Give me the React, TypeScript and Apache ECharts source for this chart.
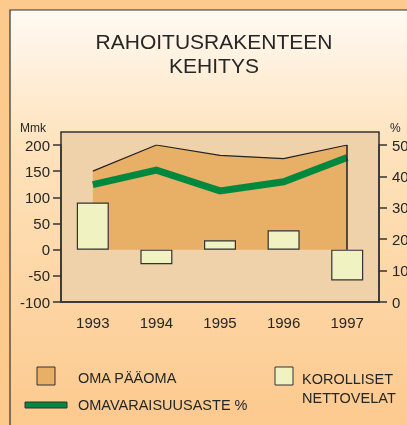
import React, { useEffect, useRef } from "react";
import * as echarts from "echarts";

const years = ["1993", "1994", "1995", "1996", "1997"];
const equity = [150, 200, 180, 174, 200]; // OMA PÄÄOMA, Mmk
const netDebt = [90, -28, 18, 37, -59]; // KOROLLISET NETTOVELAT, Mmk
const equityRatio = [37.4, 42, 35.4, 38.3, 46]; // OMAVARAISUUSASTE %

const leftTicks = { min: -100, max: 200, interval: 50 };
const rightTicks = { min: 0, max: 50, interval: 10 };

const FONT = "Liberation Sans, Arial, sans-serif";
const TXT = "#262626";

export default function App() {
  const ref = useRef<HTMLDivElement>(null);
  useEffect(() => {
    const chart = echarts.init(ref.current!, null, { renderer: "svg" });
    chart.setOption({
      animation: false,
      textStyle: { fontFamily: FONT },
      graphic: [
        { type: "rect", z: -10, shape: { x: 0, y: 0, width: 407, height: 425 }, style: { fill: "#fcca8c" } },
        {
          type: "rect",
          z: -9,
          shape: { x: 10, y: 10, width: 420, height: 440 },
          style: {
            fill: new echarts.graphic.LinearGradient(0, 0, 0, 1, [
              { offset: 0, color: "#fffaf3" },
              { offset: 0.3, color: "#fee3bd" },
              { offset: 1, color: "#fcc78a" },
            ]),
            stroke: "#333",
            lineWidth: 1.2,
          },
        },
        {
          type: "rect",
          z: -8,
          shape: { x: 61, y: 132, width: 318, height: 170 },
          style: { fill: "#f0d2aa", stroke: "#333", lineWidth: 1.5 },
        },
        {
          type: "text",
          x: 214,
          y: 29,
          style: {
            text: "RAHOITUSRAKENTEEN\nKEHITYS",
            fontSize: 21,
            lineHeight: 24,
            fontFamily: FONT,
            fill: TXT,
            align: "center",
            verticalAlign: "top",
          },
        },
        { type: "text", x: 20, y: 122, style: { text: "Mmk", fontSize: 12, fontFamily: FONT, fill: TXT } },
        { type: "text", x: 390, y: 122, style: { text: "%", fontSize: 12, fontFamily: FONT, fill: TXT } },
        {
          type: "rect",
          shape: { x: 37, y: 367, width: 18, height: 18 },
          style: { fill: "#e8b066", stroke: "#333", lineWidth: 1 },
        },
        {
          type: "text",
          x: 78,
          y: 378,
          style: { text: "OMA PÄÄOMA", fontSize: 14.5, fontFamily: FONT, fill: TXT, verticalAlign: "middle" },
        },
        {
          type: "rect",
          shape: { x: 25, y: 402, width: 42, height: 6 },
          style: { fill: "#00883f", stroke: "#333", lineWidth: 1 },
        },
        {
          type: "text",
          x: 78,
          y: 405,
          style: { text: "OMAVARAISUUSASTE %", fontSize: 14.5, fontFamily: FONT, fill: TXT, verticalAlign: "middle" },
        },
        {
          type: "rect",
          shape: { x: 275, y: 367, width: 18, height: 18 },
          style: { fill: "#f1f2c2", stroke: "#333", lineWidth: 1 },
        },
        {
          type: "text",
          x: 302,
          y: 369,
          style: {
            text: "KOROLLISET\nNETTOVELAT",
            fontSize: 14.5,
            lineHeight: 19,
            fontFamily: FONT,
            fill: TXT,
            verticalAlign: "top",
          },
        },
      ],
      grid: { left: 61, right: 28, top: 145, bottom: 123, containLabel: false, outerBoundsMode: "none" },
      xAxis: {
        type: "category",
        data: years,
        boundaryGap: true,
        axisLine: { onZero: false, lineStyle: { color: "#333", width: 1.5 } },
        axisTick: { alignWithLabel: true, length: 6, lineStyle: { color: "#333", width: 1.5 } },
        axisLabel: { color: TXT, fontSize: 15, margin: 13, fontFamily: FONT },
        splitLine: { show: false },
      },
      yAxis: [
        {
          type: "value",
          ...leftTicks,
          axisLine: { show: true, lineStyle: { color: "#333", width: 1.5 } },
          axisTick: { show: true, length: 8, lineStyle: { color: "#333", width: 1.5 } },
          axisLabel: { color: TXT, fontSize: 15, margin: 11, fontFamily: FONT },
          splitLine: { show: false },
        },
        {
          type: "value",
          position: "right",
          ...rightTicks,
          axisLine: { show: true, lineStyle: { color: "#333", width: 1.5 } },
          axisTick: { show: true, length: 8, lineStyle: { color: "#333", width: 1.5 } },
          axisLabel: { color: TXT, fontSize: 15, margin: 13, fontFamily: FONT },
          splitLine: { show: false },
        },
      ],
      series: [
        {
          name: "OMA PÄÄOMA",
          type: "line",
          yAxisIndex: 0,
          data: equity,
          symbol: "none",
          z: 1,
          lineStyle: { color: "#222", width: 1.2 },
          areaStyle: { color: "#e8b066", opacity: 1 },
          markLine: {
            silent: true,
            symbol: "none",
            label: { show: false },
            lineStyle: { color: "#222", width: 1.5, type: "solid" },
            data: [[{ coord: [years[4], 0] }, { coord: [years[4], equity[4]] }]],
          },
        },
        {
          name: "KOROLLISET NETTOVELAT",
          type: "bar",
          yAxisIndex: 0,
          data: netDebt,
          barWidth: 32,
          z: 3,
          itemStyle: { color: "#f1f2c2", borderColor: "#333", borderWidth: 1.2 },
        },
        {
          name: "OMAVARAISUUSASTE %",
          type: "line",
          yAxisIndex: 1,
          data: equityRatio,
          symbol: "none",
          z: 4,
          lineStyle: { color: "#00883f", width: 7, join: "miter" },
        },
      ],
    });
    return () => chart.dispose();
  }, []);
  return <div ref={ref} style={{ position: "fixed", left: 0, top: 0, width: 407, height: 425 }} />;
}
